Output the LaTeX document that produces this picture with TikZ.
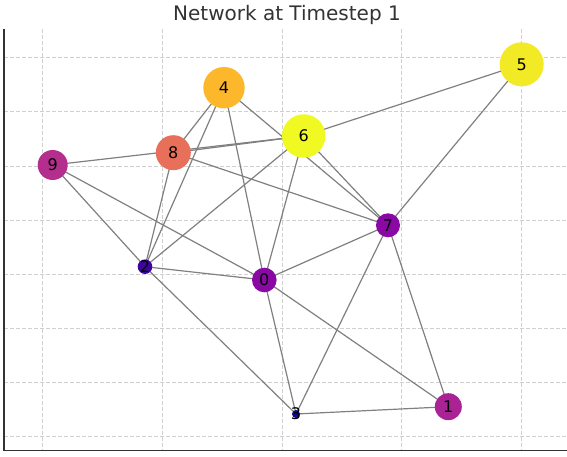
\documentclass[tikz,border=0pt]{standalone}
\usepackage{fontspec}
\setmainfont{DejaVu Sans}
\pgfdeclarelayer{back}
\pgfdeclarelayer{edges}
\pgfsetlayers{back,edges,main}
\definecolor{c0}{HTML}{8A09A5}
\definecolor{c1}{HTML}{A92395}
\definecolor{c2}{HTML}{3E049C}
\definecolor{c3}{HTML}{10078A}
\definecolor{c4}{HTML}{FCB72B}
\definecolor{c5}{HTML}{F3EA26}
\definecolor{c6}{HTML}{F0F921}
\definecolor{c7}{HTML}{8A09A5}
\definecolor{c8}{HTML}{E8705A}
\definecolor{c9}{HTML}{B42E8D}
\definecolor{gridc}{HTML}{D0D0D0}
\definecolor{spinec}{HTML}{333333}
\definecolor{edgec}{HTML}{808080}
\tikzset{
  vtx/.style={circle, inner sep=0pt, outer sep=0pt, draw=none},
  lbl/.style={inner sep=0pt, font=\fontsize{16}{16}\selectfont, text=black},
  edge/.style={draw=edgec, line width=1.2pt},
  gridline/.style={draw=gridc, line width=0.8pt, dash pattern=on 4pt off 2pt},
  spine/.style={draw=spinec, line width=1.3pt}
}
\begin{document}
\begin{tikzpicture}[x=1pt,y=-1pt]
\useasboundingbox (0,0) rectangle (567,457);
% title
\node[font=\fontsize{20}{20}\selectfont, text=spinec, anchor=base] (title) at (287,21) {Network at Timestep 1};
% nodes
\node[vtx, fill=c0, minimum size=24.6pt] (n0) at (264.3,280) {};
\node[vtx, fill=c1, minimum size=27pt] (n1) at (448.3,406.7) {};
\node[vtx, fill=c2, minimum size=14.6pt] (n2) at (145,266.7) {};
\node[vtx, fill=c3, minimum size=8pt] (n3) at (296,414) {};
\node[vtx, fill=c4, minimum size=41.4pt] (n4) at (224,87.7) {};
\node[vtx, fill=c5, minimum size=44pt] (n5) at (521.7,64.3) {};
\node[vtx, fill=c6, minimum size=43.4pt] (n6) at (303.7,136) {};
\node[vtx, fill=c7, minimum size=24pt] (n7) at (388,225.3) {};
\node[vtx, fill=c8, minimum size=35pt] (n8) at (173.3,152.7) {};
\node[vtx, fill=c9, minimum size=30pt] (n9) at (52.7,165) {};
\foreach \i in {0,...,9}{\node[lbl] (l\i) at (n\i) {\i};}
% edges
\begin{pgfonlayer}{edges}
\foreach \a/\b in {0/1,0/2,0/3,0/4,0/6,0/7,0/9,1/3,1/7,2/3,2/4,2/6,2/8,2/9,3/7,4/7,4/8,5/6,5/7,6/7,6/8,6/9,7/8}
  {\draw[edge] (n\a.center) -- (n\b.center);}
\end{pgfonlayer}
% background, grid and spines
\begin{pgfonlayer}{back}
\fill[white] (0,0) rectangle (567,457);
\coordinate (tl) at (4,29);
\coordinate (bl) at (4,450.5);
\coordinate (br) at (567,450.5);
\foreach \x in {42.3,162,282,401.7,521}{\draw[gridline] (\x,29) -- (\x,450);}
\foreach \y in {57.5,111.8,166,220,274,328,382,436}{\draw[gridline] (4,\y) -- (567,\y);}
\draw[spine] (tl) -- (bl) -- (br);
\end{pgfonlayer}
\end{tikzpicture}
\end{document}
